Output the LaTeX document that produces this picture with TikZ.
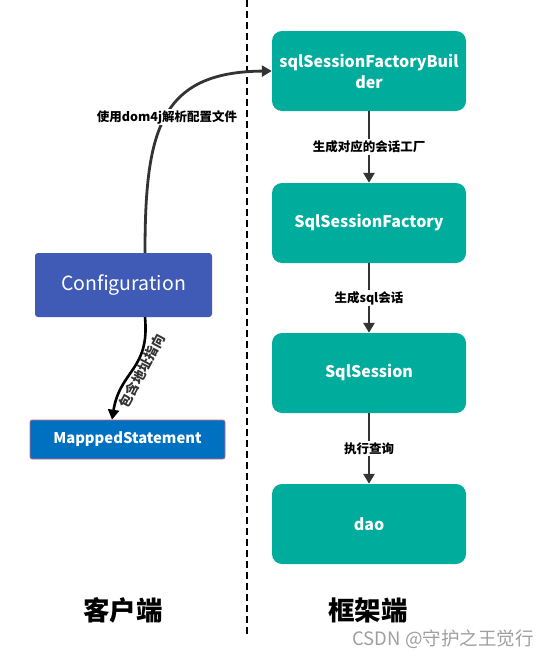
\documentclass[tikz,border=0pt]{standalone}
\usepackage{fontspec}
\setmainfont{Noto Sans CJK SC}
\usetikzlibrary{arrows.meta}
\definecolor{teal1}{RGB}{0,172,155}
\definecolor{cfgblue}{RGB}{63,91,181}
\definecolor{msblue}{RGB}{0,112,192}
\definecolor{msedge}{RGB}{220,100,120}
\definecolor{dk}{RGB}{51,51,51}
\tikzset{
  tealbox/.style={rectangle, rounded corners=10pt, fill=teal1, minimum width=194pt, minimum height=80pt, text=white, font=\fontsize{16}{21}\selectfont\bfseries, align=center},
  flowarrow/.style={draw=dk, line width=2.8pt, -{Triangle[length=10pt,width=11pt]}},
  elabel/.style={fill=white, inner sep=1.5pt, text=black, font=\fontsize{12.5}{15}\selectfont\bfseries},
  sidelabel/.style={font=\fontsize{26.5}{30}\selectfont\bfseries, text=black}
}
\begin{document}
\begin{tikzpicture}[x=1pt,y=-1pt]
\useasboundingbox (0,0) rectangle (554,659);
\coordinate (dtop) at (247,0);
\coordinate (dbot) at (247,636);
\draw[black, line width=1.2pt, dash pattern=on 7pt off 4pt] (dtop) -- (dbot);

\node[tealbox] (builder) at (369,71) {sqlSessionFactoryBuil\\der};
\node[tealbox] (factory) at (369,223) {SqlSessionFactory};
\node[tealbox] (session) at (369,373) {SqlSession};
\node[tealbox] (dao) at (369,524) {dao};

\node[rectangle, rounded corners=3pt, fill=cfgblue, minimum width=177pt, minimum height=64pt, text=white, font=\fontsize{19.5}{23}\selectfont] (cfg) at (123.5,285) {Configuration};
\node[rectangle, rounded corners=2pt, fill=msblue, draw=msedge, line width=0.6pt, minimum width=195pt, minimum height=39pt, text=white, font=\fontsize{14.8}{17}\selectfont\bfseries] (ms) at (127.5,439.5) {MapppedStatement};

\draw[flowarrow] (builder) -- node[elabel] {生成对应的会话工厂} (factory);
\draw[flowarrow] (factory) -- node[elabel] {生成sql会话} (session);
\draw[flowarrow] (session) -- node[elabel] {执行查询} (dao);

\draw[flowarrow] ([xshift=21.5pt]cfg.north) .. controls (145,130) and (160,72) .. (builder.west);
\node[elabel] (lab1) at (167,117) {使用dom4j解析配置文件};

\draw[draw=black, line width=2.6pt, -{Triangle[length=10pt,width=11pt]}] ([xshift=21.5pt]cfg.south) .. controls (150,370) and (120,370) .. ([xshift=-15.5pt]ms.north);
\node[rotate=62, text=dk, font=\fontsize{13.5}{15}\selectfont\bfseries, inner sep=0pt] (lab2) at (142,371) {包含地址指向};

\node[sidelabel] (client) at (123,610) {客户端};
\node[sidelabel] (frame) at (368,610) {框架端};
\node[text=gray!75, font=\fontsize{18.5}{21}\selectfont, inner sep=0pt] (wm) at (443,639) {CSDN @守护之王觉行};
\end{tikzpicture}
\end{document}
